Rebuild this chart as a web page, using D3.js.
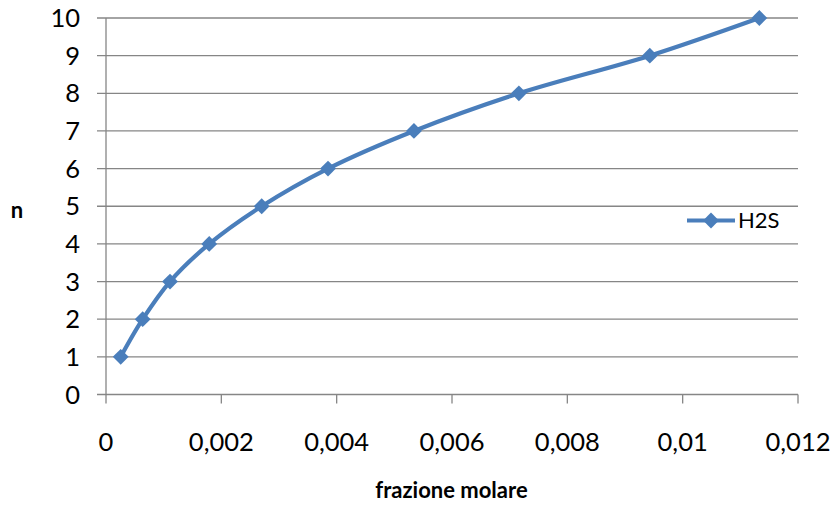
<!DOCTYPE html>
<html>
<head>
<meta charset="utf-8">
<script src="https://cdn.jsdelivr.net/npm/d3@7"></script>
<style>
  body { margin: 0; background: #fff; }
  svg { font-family: Lato, "Liberation Sans", sans-serif; }
</style>
</head>
<body>
<svg id="chart" width="834" height="506"></svg>
<script>
// data
const seriesName = 'H2S';
const fraction = [0.000255, 0.000636, 0.00111, 0.00179, 0.0027, 0.00385, 0.00534, 0.00716, 0.00943, 0.01133];
const nValues = [1, 2, 3, 4, 5, 6, 7, 8, 9, 10];
const xTicks = [0, 0.002, 0.004, 0.006, 0.008, 0.01, 0.012];
const yTicks = [0, 1, 2, 3, 4, 5, 6, 7, 8, 9, 10];

const
    svg = d3.select('#chart'),
    lineColor = '#4a7ebb',
    gridColor = '#868686';

const
    x = d3.scaleLinear().domain([0, 0.012]).range([106, 798]),
    y = d3.scaleLinear().domain([0, 10]).range([394.5, 18]);

const fmt = v => String(v).replace('.', ',');

// horizontal grid lines
svg.append('g')
    .selectAll('line')
    .data(yTicks)
    .join('line')
    .attr('x1', 97)
    .attr('x2', x(0.012))
    .attr('y1', d => y(d))
    .attr('y2', d => y(d))
    .attr('stroke', gridColor)
    .attr('stroke-width', 1.3);

// y axis line
svg.append('line')
    .attr('x1', x(0)).attr('x2', x(0))
    .attr('y1', y(10)).attr('y2', y(0))
    .attr('stroke', gridColor)
    .attr('stroke-width', 1.3);

// x axis ticks
svg.append('g')
    .selectAll('line')
    .data(xTicks)
    .join('line')
    .attr('x1', d => x(d))
    .attr('x2', d => x(d))
    .attr('y1', y(0))
    .attr('y2', y(0) + 9)
    .attr('stroke', gridColor)
    .attr('stroke-width', 1.3);

// tick labels
svg.append('g')
    .selectAll('text')
    .data(yTicks)
    .join('text')
    .attr('x', 80)
    .attr('y', d => y(d))
    .attr('dy', '0.36em')
    .attr('text-anchor', 'end')
    .attr('font-size', 25.5)
    .text(d => d);

svg.append('g')
    .selectAll('text')
    .data(xTicks)
    .join('text')
    .attr('x', d => x(d))
    .attr('y', 451)
    .attr('text-anchor', 'middle')
    .attr('font-size', 25.5)
    .text(d => fmt(d));

// axis titles
svg.append('text')
    .attr('x', 17)
    .attr('y', 218)
    .attr('text-anchor', 'middle')
    .attr('font-size', 22)
    .attr('font-weight', 'bold')
    .text('n');

svg.append('text')
    .attr('x', 451.5)
    .attr('y', 498)
    .attr('text-anchor', 'middle')
    .attr('font-size', 22)
    .attr('font-weight', 'bold')
    .text('frazione molare');

// series
const pts = fraction.map((f, i) => ({ x: f, y: nValues[i] }));

const line = d3.line()
    .x(d => x(d.x))
    .y(d => y(d.y))
    .curve(d3.curveCatmullRom.alpha(0.5));

svg.append('path')
    .datum(pts)
    .attr('d', line)
    .attr('fill', 'none')
    .attr('stroke', lineColor)
    .attr('stroke-width', 4.2)
    .attr('stroke-linejoin', 'round');

const diamond = d3.symbol().type(d3.symbolDiamond2).size(160);

svg.append('g')
    .selectAll('path')
    .data(pts)
    .join('path')
    .attr('transform', d => `translate(${x(d.x)},${y(d.y)})`)
    .attr('d', diamond)
    .attr('fill', lineColor);

// legend
const lg = svg.append('g').attr('transform', 'translate(687,220.5)');
lg.append('line')
    .attr('x1', 0).attr('x2', 48)
    .attr('stroke', lineColor)
    .attr('stroke-width', 4.2);
lg.append('path')
    .attr('transform', 'translate(24,0)')
    .attr('d', diamond)
    .attr('fill', lineColor);
lg.append('text')
    .attr('x', 51)
    .attr('dy', '0.36em')
    .attr('font-size', 22)
    .text(seriesName);
</script>
</body>
</html>
